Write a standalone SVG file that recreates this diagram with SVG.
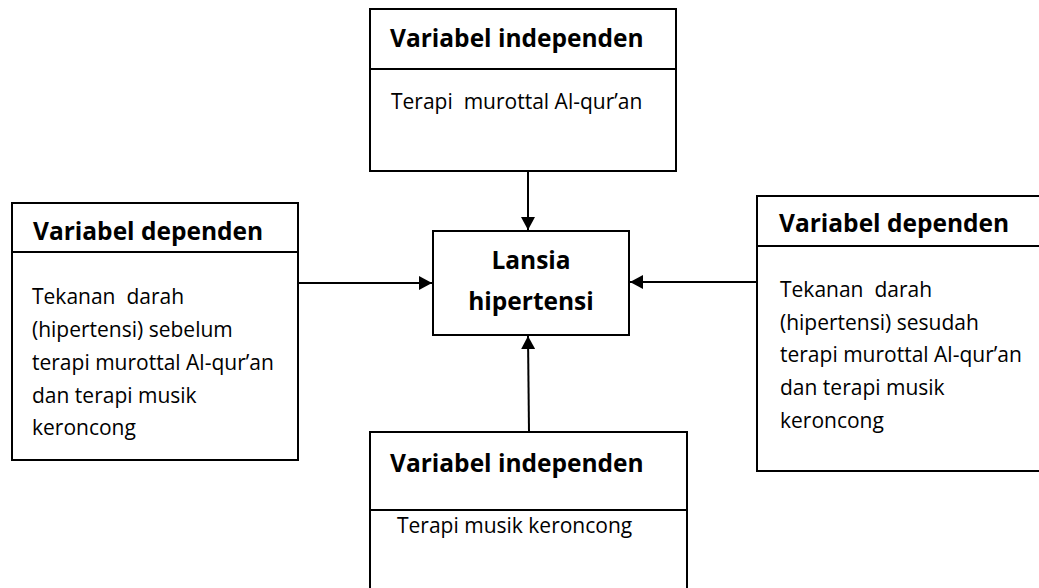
<svg xmlns="http://www.w3.org/2000/svg" width="1039" height="588" viewBox="0 0 1039 588">
<defs>
<style>
.box{fill:#fff;stroke:#000;stroke-width:2}
.div{stroke:#000;stroke-width:2}
.t{font-family:"Open Sans","Liberation Sans",sans-serif;font-weight:bold;font-size:24.5px;fill:#000}
.b{font-family:"Open Sans","Liberation Sans",sans-serif;font-size:21px;fill:#000}
.c{stroke:#000;stroke-width:2;fill:none;marker-end:url(#ah)}
</style>
<marker id="ah" viewBox="0 0 13 14" refX="13" refY="7" markerWidth="13" markerHeight="14" markerUnits="userSpaceOnUse" orient="auto">
<path d="M0,0 L13,7 L0,14 Z" fill="#000"/>
</marker>
</defs>
<rect width="1039" height="588" fill="#fff"/>
<g id="connectors">
<line class="c" x1="528" y1="171" x2="528" y2="230"/>
<line class="c" x1="299" y1="283" x2="432" y2="283"/>
<line class="c" x1="757" y1="282" x2="630" y2="282"/>
<line class="c" x1="529" y1="432" x2="528" y2="336"/>
</g>
<g id="top-independen">
<rect class="box" x="370" y="9" width="306" height="162"/>
<line class="div" x1="370" y1="69" x2="676" y2="69"/>
<text class="t" x="390" y="47">Variabel independen</text>
<text class="b" x="391" y="109" xml:space="preserve">Terapi  murottal Al-qur’an</text>
</g>
<g id="left-dependen">
<rect class="box" x="12" y="203" width="286" height="257"/>
<line class="div" x1="12" y1="252" x2="298" y2="252"/>
<text class="t" x="33" y="240">Variabel dependen</text>
<text class="b" x="32" y="304" xml:space="preserve">Tekanan  darah</text>
<text class="b" x="32" y="337">(hipertensi) sebelum</text>
<text class="b" x="32" y="370">terapi murottal Al-qur’an</text>
<text class="b" x="32" y="403">dan terapi musik</text>
<text class="b" x="32" y="435">keroncong</text>
</g>
<g id="center-lansia">
<rect class="box" x="433" y="231" width="196" height="104"/>
<text class="t" x="531" y="269" text-anchor="middle">Lansia</text>
<text class="t" x="531" y="310" text-anchor="middle">hipertensi</text>
</g>
<g id="right-dependen">
<rect class="box" x="757" y="196" width="290" height="275"/>
<line class="div" x1="757" y1="246" x2="1039" y2="246"/>
<text class="t" x="779" y="232">Variabel dependen</text>
<text class="b" x="780" y="297" xml:space="preserve">Tekanan  darah</text>
<text class="b" x="780" y="330">(hipertensi) sesudah</text>
<text class="b" x="780" y="362">terapi murottal Al-qur’an</text>
<text class="b" x="780" y="395">dan terapi musik</text>
<text class="b" x="780" y="428">keroncong</text>
</g>
<g id="bottom-independen">
<rect class="box" x="370" y="432" width="317" height="170"/>
<line class="div" x1="370" y1="510" x2="687" y2="510"/>
<text class="t" x="390" y="472">Variabel independen</text>
<text class="b" x="397" y="533">Terapi musik keroncong</text>
</g>
</svg>
